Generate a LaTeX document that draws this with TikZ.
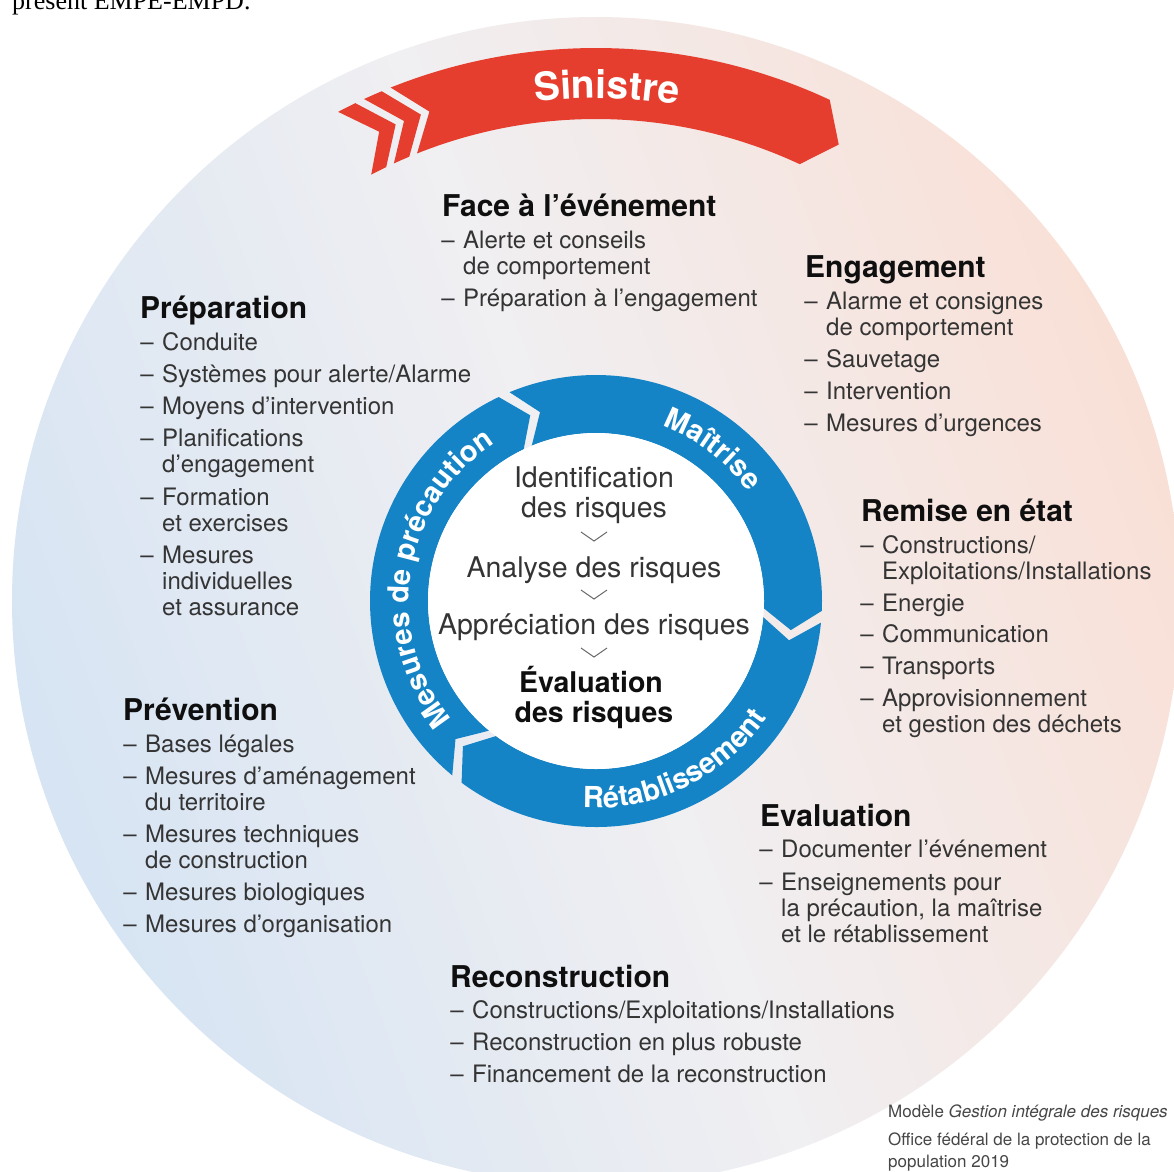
\documentclass[tikz,border=0pt]{standalone}
\usepackage{fontspec}
\setmainfont{TeX Gyre Heros}
\newfontfamily\cutserif{Liberation Serif}
\usetikzlibrary{decorations.text}

\definecolor{ringblue}{RGB}{20,132,198}
\definecolor{alertred}{RGB}{230,62,46}
\definecolor{bodygray}{RGB}{52,52,52}
\definecolor{headblack}{RGB}{15,15,15}
\definecolor{bgblue}{RGB}{214,228,243}
\definecolor{bgmid}{RGB}{240,239,242}
\definecolor{bgpink}{RGB}{249,224,214}
\definecolor{creditgray}{RGB}{70,70,70}
\definecolor{chevgray}{RGB}{105,105,105}

\pgfdeclarehorizontalshading{discshade}{100bp}{color(0bp)=(bgblue); color(25bp)=(bgblue); color(50bp)=(bgmid); color(75bp)=(bgpink); color(100bp)=(bgpink)}

\newcommand\dashmark{\llap{–\hspace{8.5pt}}}
\newcommand\sinistrefont{\fontsize{39}{39}\selectfont\bfseries\color{white}}
\newcommand\ringfont{\fontsize{29}{29}\selectfont\bfseries\color{white}}
% one blue arrow segment of the cycle ring, running clockwise from #1 to #2
\newcommand\ringseg[2]{\fill[seg] (#1:226) arc[start angle=#1, end angle=#2, radius=226] -- ({#2-6}:197) -- (#2:168) arc[start angle=#2, end angle=#1, radius=168] -- ({#1-6}:197) -- cycle;}

\tikzset{
  hd/.style={anchor=base west, inner sep=0pt, font=\fontsize{30}{32}\selectfont\bfseries, text=headblack},
  ln/.style={anchor=base west, inner sep=0pt, font=\fontsize{24}{26}\selectfont, text=bodygray},
  ctr/.style={anchor=base, inner sep=0pt, font=\fontsize{28.5}{30}\selectfont, text=bodygray},
  ctrb/.style={anchor=base, inner sep=0pt, font=\fontsize{28.5}{30}\selectfont\bfseries, text=headblack},
  cred/.style={anchor=base west, inner sep=0pt, font=\fontsize{17}{19}\selectfont, text=creditgray},
  chev/.style={draw=chevgray, line width=1pt},
  seg/.style={fill=ringblue},
  redband/.style={fill=alertred},
}

\begin{document}
\begin{tikzpicture}[x=1pt, y=-1pt]
\useasboundingbox (0,0) rectangle (1174,1171);
\clip (0,0) rectangle (1174,1171);
\fill[white] (0,0) rectangle (1174,1171);

% last line of the preceding page text
\node[anchor=base west, inner sep=0pt, font=\cutserif\fontsize{26}{28}\selectfont] (cut) at (12,9) {présent EMPE-EMPD.};

\begin{scope}[shift={(596,601)}, y=1pt]
  % shaded disc
  \shade[shading=discshade, shading angle=20] (0,0) circle[radius=584];

  % red "Sinistre" band with its two leading chevrons
  \fill[redband] (111.8:553) arc[start angle=111.8, end angle=65, radius=553] -- (62:517) -- (65:482) arc[start angle=65, end angle=111.8, radius=482] -- (108.8:517) -- cycle;
  \fill[redband] (117.8:553) arc[start angle=117.8, end angle=115.8, radius=553] -- (112.8:517) -- (115.8:482) arc[start angle=115.8, end angle=117.8, radius=482] -- (114.8:517) -- cycle;
  \fill[redband] (114.8:553) arc[start angle=114.8, end angle=112.8, radius=553] -- (109.8:517) -- (112.8:482) arc[start angle=112.8, end angle=114.8, radius=482] -- (111.8:517) -- cycle;
  \path[decorate, decoration={text along path, text={|\sinistrefont|Sinistre}, text align=center}]
    (111:503) arc[start angle=111, end angle=66.6, radius=503];

  % cycle ring
  \ringseg{230.5}{115.5}
  \ringseg{112.5}{-2.5}
  \ringseg{-5.5}{-126.5}
  \fill[white] (0,0) circle[radius=168];

  \path[decorate, decoration={text along path, text={|\ringfont|Mesures de précaution}, text align=center}]
    (241:187) arc[start angle=241, end angle=101, radius=187];
  \path[decorate, decoration={text along path, text={|\ringfont|Maîtrise}, text align=center}]
    (85:187) arc[start angle=85, end angle=20, radius=187];
  \path[decorate, decoration={text along path, text={|\ringfont|Rétablissement}, text align=center}]
    (237:207) arc[start angle=237, end angle=355, radius=207];
\end{scope}

% centre: risk assessment steps
\node[ctr] (id1) at (594,487) {Identification};
\node[ctr] (id2) at (594,517) {des risques};
\draw[chev] (581,532) -- (594,541) -- (607,532);
\node[ctr] (an) at (594,577) {Analyse des risques};
\draw[chev] (581,590) -- (594,599) -- (607,590);
\node[ctr] (ap) at (594,634) {Appréciation des risques};
\draw[chev] (581,648) -- (594,657) -- (607,648);
\node[ctrb] (ev1) at (591,692) {Évaluation};
\node[ctrb] (ev2) at (594,722) {des risques};

% Face à l'événement
\node[hd] (face) at (442,216) {Face à l’événement};
\node[ln] (face1) at (463,248) {\dashmark Alerte et conseils};
\node[ln] (face1b) at (463,274) {de comportement};
\node[ln] (face2) at (463,306) {\dashmark Préparation à l’engagement};

% Engagement
\node[hd] (eng) at (805,277) {Engagement};
\node[ln] (eng1) at (826,309) {\dashmark Alarme et consignes};
\node[ln] (eng1b) at (826,335) {de comportement};
\node[ln] (eng2) at (826,367) {\dashmark Sauvetage};
\node[ln] (eng3) at (826,399) {\dashmark Intervention};
\node[ln] (eng4) at (826,431) {\dashmark Mesures d’urgences};

% Préparation
\node[hd] (prep) at (140,318) {Préparation};
\node[ln] (prep1) at (162,350) {\dashmark Conduite};
\node[ln] (prep2) at (162,382) {\dashmark Systèmes pour alerte/Alarme};
\node[ln] (prep3) at (162,414) {\dashmark Moyens d’intervention};
\node[ln] (prep4) at (162,446) {\dashmark Planifications};
\node[ln] (prep4b) at (162,472) {d’engagement};
\node[ln] (prep5) at (162,505) {\dashmark Formation};
\node[ln] (prep5b) at (162,531) {et exercises};
\node[ln] (prep6) at (162,563) {\dashmark Mesures};
\node[ln] (prep6b) at (162,589) {individuelles};
\node[ln] (prep6c) at (162,615) {et assurance};

% Remise en état
\node[hd] (rem) at (861,521) {Remise en état};
\node[ln] (rem1) at (882,553) {\dashmark Constructions/};
\node[ln] (rem1b) at (882,579) {Exploitations/Installations};
\node[ln] (rem2) at (882,611) {\dashmark Energie};
\node[ln] (rem3) at (882,642) {\dashmark Communication};
\node[ln] (rem4) at (882,674) {\dashmark Transports};
\node[ln] (rem5) at (882,706) {\dashmark Approvisionnement};
\node[ln] (rem5b) at (882,732) {et gestion des déchets};

% Prévention
\node[hd] (prev) at (123,720) {Prévention};
\node[ln] (prev1) at (145,752) {\dashmark Bases légales};
\node[ln] (prev2) at (145,784) {\dashmark Mesures d’aménagement};
\node[ln] (prev2b) at (145,810) {du territoire};
\node[ln] (prev3) at (145,842) {\dashmark Mesures techniques};
\node[ln] (prev3b) at (145,868) {de construction};
\node[ln] (prev4) at (145,900) {\dashmark Mesures biologiques};
\node[ln] (prev5) at (145,932) {\dashmark Mesures d’organisation};

% Evaluation
\node[hd] (eval) at (760,826) {Evaluation};
\node[ln] (eval1) at (781,857) {\dashmark Documenter l’événement};
\node[ln] (eval2) at (781,890) {\dashmark Enseignements pour};
\node[ln] (eval2b) at (781,916) {la précaution, la maîtrise};
\node[ln] (eval2c) at (781,942) {et le rétablissement};

% Reconstruction
\node[hd] (rec) at (450,987) {Reconstruction};
\node[ln] (rec1) at (472,1018) {\dashmark Constructions/Exploitations/Installations};
\node[ln] (rec2) at (472,1050) {\dashmark Reconstruction en plus robuste};
\node[ln] (rec3) at (472,1082) {\dashmark Financement de la reconstruction};

% source
\node[cred] (src1) at (888,1117) {Modèle \textit{Gestion intégrale des risques}};
\node[cred] (src2) at (888,1145) {Office fédéral de la protection de la};
\node[cred] (src3) at (888,1167) {population 2019};
\end{tikzpicture}
\end{document}
